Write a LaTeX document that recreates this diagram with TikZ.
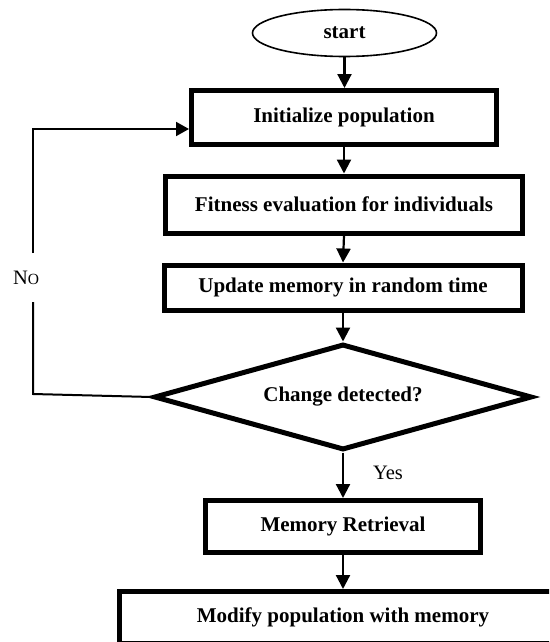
\documentclass[tikz,border=0pt]{standalone}
\usepackage{fontspec}
\setmainfont{Liberation Serif}
\usetikzlibrary{shapes.geometric,arrows.meta}
\begin{document}
\begin{tikzpicture}[x=1pt,y=-1pt,
  box/.style={draw, line width=5pt, inner sep=0pt, font=\fontsize{21}{24}\selectfont\bfseries},
  flow/.style={line width=2.2pt, -{Triangle[length=14pt,width=14pt]}},
  loopline/.style={line width=2pt},
  lbl/.style={inner sep=0pt, font=\fontsize{20.5}{24}\selectfont}
]
\useasboundingbox (0,0) rectangle (549,642);
\clip (0,0) rectangle (549,642);
\node[draw, ellipse, line width=1.6pt, minimum width=184pt, minimum height=47pt, inner sep=0pt,
      font=\fontsize{21}{24}\selectfont\bfseries] (start) at (344.5,33) {\raisebox{-4pt}{start}};
\node[box, minimum width=305pt, minimum height=54pt] (init) at (344,117.5) {Initialize population};
\node[box, minimum width=357pt, minimum height=57pt] (fit) at (344,204.5) {Fitness evaluation for individuals};
\node[box, minimum width=358pt, minimum height=45pt] (upd) at (343,287.5) {Update memory in random time};
\node[box, diamond, aspect=3.57, minimum width=378pt, minimum height=106pt] (chg) at (343,397) {Change detected?};
\node[box, minimum width=275pt, minimum height=52pt] (mem) at (343,526.5) {Memory Retrieval};
\node[box, minimum width=447.5pt, minimum height=52pt] (mod) at (343,617.5) {Modify population with memory};
\node[lbl] (yes) at (388,473) {Yes};
\node[lbl] (no) at (26,278) {N{\fontsize{15.5}{18}\selectfont O}};
\draw[flow] (start.south) -- (start.south |- init.north);
\draw[flow] (init.south) -- (fit.north);
\draw[flow] (fit.south) -- (upd.north);
\draw[flow] (upd.south) -- (chg.north);
\draw[flow] (chg.south) -- (mem.north);
\draw[flow] (mem.south) -- (mod.north);
\coordinate (lb) at (33,394);
\coordinate (gb) at (33,302);
\coordinate (ga) at (33,253);
\coordinate (lt) at (33,129);
\draw[loopline] (chg.west) -- (lb) -- (gb);
\draw[loopline, -{Triangle[length=13pt,width=14pt]}] (ga) -- (lt) -- (lt -| init.west);
\end{tikzpicture}
\end{document}
